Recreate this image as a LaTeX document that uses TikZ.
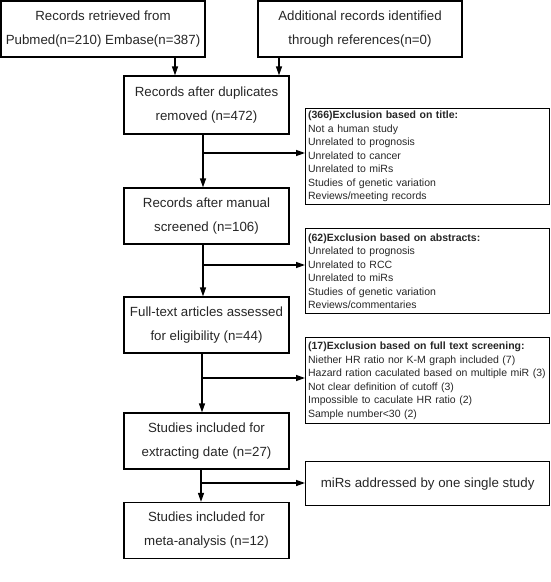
\documentclass[tikz,border=0pt]{standalone}
\usepackage{fontspec}
\setmainfont{Liberation Sans}
\usetikzlibrary{arrows.meta}
\begin{document}
\begin{tikzpicture}[x=1pt,y=-1pt,
  mainbox/.style={draw=black,line width=1.3pt,minimum width=165pt,minimum height=56pt,inner sep=0pt,align=center,text=black!85,font=\fontsize{13.3}{24}\selectfont},
  topbox/.style={mainbox,minimum width=204pt},
  sidebox/.style={draw=black,line width=1.3pt,anchor=north west,text width=239pt,inner sep=2.5pt,align=left,text=black!85,font=\fontsize{10.5}{13.5}\selectfont},
  flow/.style={line width=1.3pt,-{Triangle[length=9pt,width=6pt]}},
  plain/.style={line width=1.3pt}]
\useasboundingbox (0,0) rectangle (550,582);
\node[topbox] (b1) at (103,29) {Records retrieved from\\Pubmed(n=210) Embase(n=387)};
\node[topbox] (b2) at (360,29) {Additional records identified\\through references(n=0)};
\node[mainbox,minimum height=58pt] (b3) at (206.5,105) {Records after duplicates\\removed (n=472)};
\node[mainbox] (b4) at (206.5,216) {Records after manual\\screened (n=106)};
\node[mainbox] (b5) at (206.5,325) {Full-text articles assessed\\for eligibility (n=44)};
\node[mainbox] (b6) at (206.5,441) {Studies included for\\extracting date (n=27)};
\node[mainbox] (b7) at (206.5,530.5) {Studies included for\\meta-analysis (n=12)};
\node[sidebox,minimum height=95pt] (e1) at (305,108) {\textbf{(366)Exclusion based on title:}\\Not a human study\\Unrelated to prognosis\\Unrelated to cancer\\Unrelated to miRs\\Studies of genetic variation\\Reviews/meeting records};
\node[sidebox,minimum height=85pt] (e2) at (305,228) {\textbf{(62)Exclusion based on abstracts:}\\Unrelated to prognosis\\Unrelated to RCC\\Unrelated to miRs\\Studies of genetic variation\\Reviews/commentaries};
\node[sidebox,minimum height=86pt] (e3) at (305,337) {\textbf{(17)Exclusion based on full text screening:}\\Niether HR ratio nor K-M graph included (7)\\Hazard ration caculated based on multiple miR (3)\\Not clear definition of cutoff (3)\\Impossible to caculate HR ratio (2)\\Sample number<30 (2)};
\node[draw=black,line width=1.3pt,anchor=north west,minimum width=244pt,minimum height=44pt,inner sep=0pt,text=black!85,font=\fontsize{13.3}{24}\selectfont] (e4) at (305,461) {miRs addressed by one single study};
\coordinate (a1) at (175,0);
\coordinate (a2) at (279,0);
\coordinate (m1) at (203,0);
\coordinate (m2) at (201,0);
\coordinate (j1) at (203,153);
\coordinate (j2) at (203,265);
\coordinate (j3) at (202,378);
\coordinate (j4) at (201,483);
\draw[flow] (b1.south -| a1) -- (b3.north -| a1);
\draw[flow] (b2.south -| a2) -- (b3.north -| a2);
\draw[flow] (b3.south -| m1) -- (b4.north -| m1);
\draw[flow] (j1) -- (j1 -| e1.west);
\draw[flow] (b4.south -| m1) -- (b5.north -| m1);
\draw[flow] (j2) -- (j2 -| e2.west);
\draw[flow] (b5.south -| j3) -- (b6.north -| j3);
\draw[flow] (j3) -- (j3 -| e3.west);
\draw[flow] (b6.south -| m2) -- (b7.north -| m2);
\draw[flow] (j4) -- (j4 -| e4.west);
\end{tikzpicture}
\end{document}
